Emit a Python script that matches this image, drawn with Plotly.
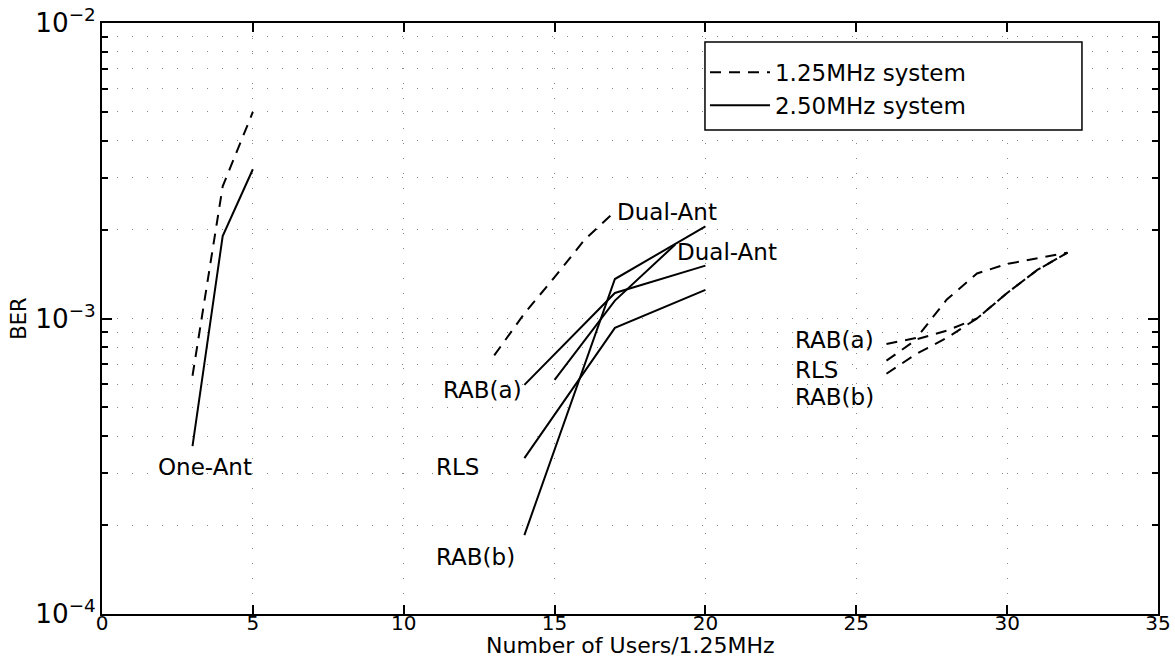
import numpy as np
import plotly.graph_objects as go

# ---- data: BER versus number of users per 1.25 MHz ----
# 1.25 MHz system (dashed)
one_ant_125_x = [3, 4, 5]
one_ant_125_y = [6.4e-4, 2.8e-3, 5.0e-3]
dual_ant_125_x = [13, 14, 15, 16, 17]
dual_ant_125_y = [7.5e-4, 1.04e-3, 1.38e-3, 1.85e-3, 2.3e-3]
rab_a_125_x = [26, 27, 28, 29, 30, 31, 32]
rab_a_125_y = [8.2e-4, 8.6e-4, 1.16e-3, 1.42e-3, 1.53e-3, 1.60e-3, 1.67e-3]
rls_125_x = [26, 27, 28, 29, 30, 31, 32]
rls_125_y = [7.2e-4, 8.5e-4, 9.1e-4, 1.0e-3, 1.22e-3, 1.46e-3, 1.67e-3]
rab_b_125_x = [26, 27, 28, 29, 30, 31, 32]
rab_b_125_y = [6.5e-4, 7.6e-4, 8.6e-4, 1.0e-3, 1.22e-3, 1.46e-3, 1.67e-3]

# 2.50 MHz system (solid)
one_ant_250_x = [3, 4, 5]
one_ant_250_y = [3.7e-4, 1.9e-3, 3.2e-3]
dual_ant_250_x = [15, 17, 19]
dual_ant_250_y = [6.2e-4, 1.15e-3, 1.78e-3]
rab_a_250_x = [14, 17, 20]
rab_a_250_y = [5.96e-4, 1.22e-3, 1.51e-3]
rls_250_x = [14, 17, 20]
rls_250_y = [3.37e-4, 9.3e-4, 1.25e-3]
rab_b_250_x = [14, 17, 20]
rab_b_250_y = [1.85e-4, 1.36e-3, 2.05e-3]

# curve labels: (text, x, y, anchor)
labels = [
    ("One-Ant", 3.4, 3.14e-4, "center"),
    ("Dual-Ant", 17.0, 2.29e-3, "left"),
    ("Dual-Ant", 19.0, 1.68e-3, "left"),
    ("RAB(a)", 14.0, 5.73e-4, "right"),
    ("RLS", 11.0, 3.14e-4, "left"),
    ("RAB(b)", 11.0, 1.56e-4, "left"),
    ("RAB(a)", 22.9, 8.45e-4, "left"),
    ("RLS", 22.9, 6.7e-4, "left"),
    ("RAB(b)", 22.9, 5.42e-4, "left"),
]

FONT = "DejaVu Sans"
DASH = "11px,8px"

fig = go.Figure()

dashed = [
    (one_ant_125_x, one_ant_125_y),
    (dual_ant_125_x, dual_ant_125_y),
    (rab_a_125_x, rab_a_125_y),
    (rls_125_x, rls_125_y),
    (rab_b_125_x, rab_b_125_y),
]
solid = [
    (one_ant_250_x, one_ant_250_y),
    (dual_ant_250_x, dual_ant_250_y),
    (rab_a_250_x, rab_a_250_y),
    (rls_250_x, rls_250_y),
    (rab_b_250_x, rab_b_250_y),
]

for i, (xs, ys) in enumerate(dashed):
    fig.add_trace(go.Scatter(
        x=xs, y=ys, mode="lines",
        line=dict(color="black", width=2, dash=DASH),
        name="1.25MHz system", showlegend=(i == 0),
    ))
for i, (xs, ys) in enumerate(solid):
    fig.add_trace(go.Scatter(
        x=xs, y=ys, mode="lines",
        line=dict(color="black", width=2),
        name="2.50MHz system", showlegend=(i == 0),
    ))

for text, lx, ly, anchor in labels:
    fig.add_annotation(
        x=lx, y=np.log10(ly), text=text, showarrow=False,
        xanchor=anchor, yanchor="middle",
        font=dict(family=FONT, size=23, color="black"),
    )

# x-axis title, placed just below the tick labels
fig.add_annotation(
    x=0.5, y=-0.054, xref="paper", yref="paper",
    text="Number of Users/1.25MHz", showarrow=False,
    xanchor="center", yanchor="middle",
    font=dict(family=FONT, size=22, color="black"),
)

# legend frame (the legend itself is drawn borderless on top of it)
fig.add_shape(
    type="rect", xref="paper", yref="paper",
    x0=0.571, x1=0.928, y0=0.819, y1=0.968,
    line=dict(color="black", width=1.5), fillcolor="white", layer="above",
)

grid_dash = "1px,14px"
fig.update_xaxes(
    range=[0, 35], dtick=5, tick0=0, automargin=False,
    showline=True, linecolor="black", linewidth=2, mirror="allticks",
    ticks="inside", ticklen=9, tickwidth=1.5, tickcolor="black",
    tickfont=dict(family=FONT, size=20, color="black"), ticklabelstandoff=-10,
    showgrid=True, gridcolor="#888888", gridwidth=1, griddash=grid_dash,
    zeroline=False,
)
fig.update_yaxes(
    type="log", range=[-4, -2], dtick=1, exponentformat="power", automargin=False,
    showline=True, linecolor="black", linewidth=2, mirror="allticks",
    ticks="inside", ticklen=10, tickwidth=1.5, tickcolor="black",
    tickfont=dict(family=FONT, size=21, color="black"),
    showgrid=True, gridcolor="#888888", gridwidth=1, griddash=grid_dash,
    minor=dict(dtick="D1", ticks="inside", ticklen=6, tickcolor="black",
               showgrid=True, gridcolor="#888888", gridwidth=1, griddash=grid_dash),
    zeroline=False,
    title=dict(text="BER", font=dict(family=FONT, size=21, color="black"), standoff=3),
)

fig.update_layout(
    width=1175, height=660,
    margin=dict(l=102, r=17, t=23, b=46),
    paper_bgcolor="white", plot_bgcolor="white",
    font=dict(family=FONT, color="black"),
    legend=dict(
        x=0.571, y=0.953, xanchor="left", yanchor="top",
        bgcolor="rgba(0,0,0,0)", borderwidth=0,
        font=dict(family=FONT, size=23, color="black"),
        itemwidth=60, tracegroupgap=0,
    ),
)

fig.write_html("out.html")
